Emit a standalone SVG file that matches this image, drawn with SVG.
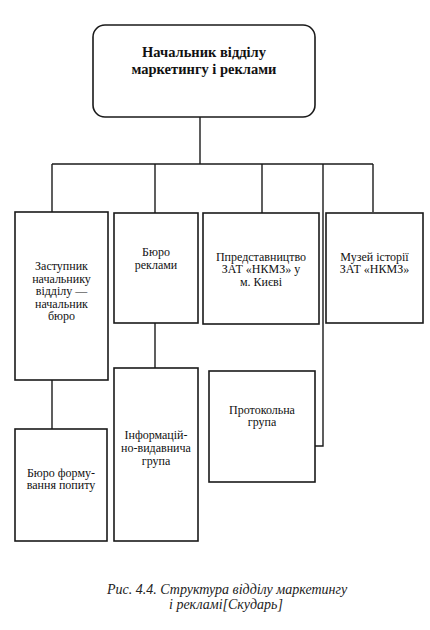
<svg xmlns="http://www.w3.org/2000/svg" width="430" height="630" viewBox="0 0 430 630">
<style>
.box{fill:#fff;stroke:#1a1a1a;stroke-width:1.6}
.ln{fill:none;stroke:#1a1a1a;stroke-width:1.4}
text{font-family:'Liberation Serif',serif;fill:#111}
.t{font-size:12px;text-anchor:middle}
.h{font-size:14.5px;font-weight:bold;text-anchor:middle}
.c{font-size:14px;font-style:italic;fill:#222}
</style>
<rect width="430" height="630" fill="#fff"/>
<g id="connectors">
<line class="ln" x1="200" y1="117" x2="200" y2="164"/>
<line class="ln" x1="52" y1="164" x2="373" y2="164"/>
<line class="ln" x1="52" y1="164" x2="52" y2="212"/>
<line class="ln" x1="155" y1="164" x2="155" y2="213"/>
<line class="ln" x1="262" y1="164" x2="262" y2="213"/>
<line class="ln" x1="373" y1="164" x2="373" y2="212"/>
<polyline class="ln" points="323,164 323,446 315,446"/>
<line class="ln" x1="52" y1="380" x2="52" y2="429"/>
<line class="ln" x1="155" y1="323" x2="155" y2="368"/>
</g>
<g id="head">
<rect class="box" x="93" y="25" width="222" height="92" rx="12"/>
<text class="h" x="204" y="57">Начальник відділу</text>
<text class="h" x="204" y="74">маркетингу і реклами</text>
</g>
<g id="deputy">
<rect class="box" x="15" y="212" width="93" height="168"/>
<text class="t" x="61.5" y="270">Заступник</text>
<text class="t" x="61.5" y="282.5">начальнику</text>
<text class="t" x="61.5" y="295">відділу —</text>
<text class="t" x="61.5" y="307.5">начальник</text>
<text class="t" x="61.5" y="320">бюро</text>
</g>
<g id="ad-bureau">
<rect class="box" x="114" y="213" width="84" height="110"/>
<text class="t" x="156" y="256">Бюро</text>
<text class="t" x="156" y="268.5">реклами</text>
</g>
<g id="kyiv-office">
<rect class="box" x="203" y="213" width="116" height="111"/>
<text class="t" x="261" y="260.5">Ппредставництво</text>
<text class="t" x="261" y="273">ЗАТ «НКМЗ» у</text>
<text class="t" x="261" y="285.5">м. Києві</text>
</g>
<g id="museum">
<rect class="box" x="326" y="213" width="97" height="110"/>
<text class="t" x="374.5" y="260.5">Музей історії</text>
<text class="t" x="374.5" y="273">ЗАТ «НКМЗ»</text>
</g>
<g id="demand-bureau">
<rect class="box" x="15" y="429" width="92" height="112"/>
<text class="t" x="61" y="476.5">Бюро форму-</text>
<text class="t" x="61" y="489">вання попиту</text>
</g>
<g id="info-group">
<rect class="box" x="114" y="368" width="84" height="173"/>
<text class="t" x="156" y="439">Інформацій-</text>
<text class="t" x="156" y="452">но-видавнича</text>
<text class="t" x="156" y="465">група</text>
</g>
<g id="protocol-group">
<rect class="box" x="209" y="371" width="106" height="111"/>
<text class="t" x="262" y="413.5">Протокольна</text>
<text class="t" x="262" y="426">група</text>
</g>
<g id="caption">
<text class="c" x="107" y="594">Рис. 4.4. Структура відділу маркетингу</text>
<text class="c" x="169" y="609">і рекламі[Скударь]</text>
</g>
</svg>
